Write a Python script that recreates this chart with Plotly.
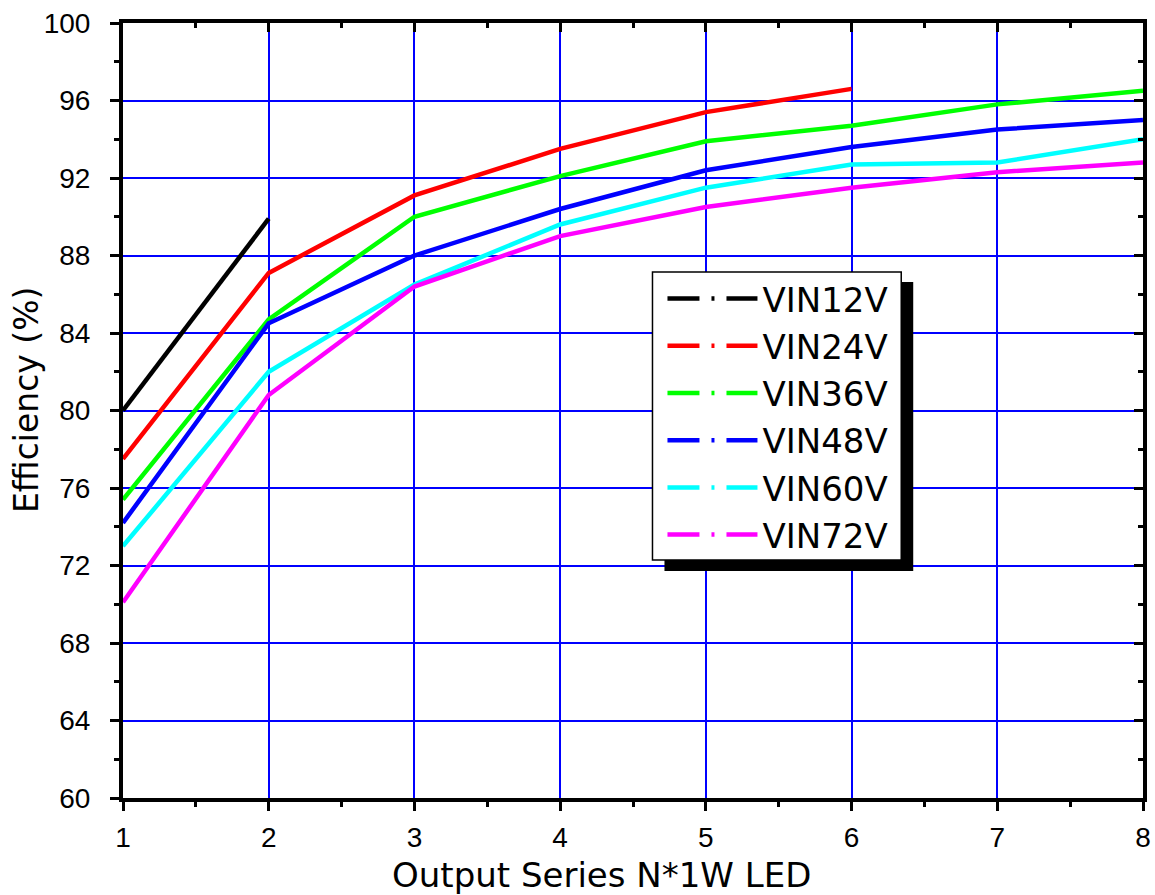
import plotly.graph_objects as go

x_vals = [1, 2, 3, 4, 5, 6, 7, 8]
series_names = ["VIN12V", "VIN24V", "VIN36V", "VIN48V", "VIN60V", "VIN72V"]
vin12 = [80.0, 89.9]
vin24 = [77.5, 87.1, 91.1, 93.5, 95.4, 96.6]
vin36 = [75.4, 84.7, 90.0, 92.1, 93.9, 94.7, 95.8, 96.5]
vin48 = [74.2, 84.5, 88.0, 90.4, 92.4, 93.6, 94.5, 95.0]
vin60 = [73.0, 82.0, 86.5, 89.6, 91.5, 92.7, 92.8, 94.0]
vin72 = [70.1, 80.8, 86.4, 89.0, 90.5, 91.5, 92.3, 92.8]
y_ticks = [60, 64, 68, 72, 76, 80, 84, 88, 92, 96, 100]
x_ticks = [1, 2, 3, 4, 5, 6, 7, 8]

series = [vin12, vin24, vin36, vin48, vin60, vin72]
colors = ["#000000", "#FF0000", "#00FF00", "#0000FF", "#00FFFF", "#FF00FF"]

FONT = "Liberation Sans, Arial, sans-serif"
FONT2 = "DejaVu Sans, Liberation Sans, sans-serif"

fig = go.Figure()
for name, ys, c in zip(series_names, series, colors):
    fig.add_trace(go.Scatter(x=x_vals[:len(ys)], y=ys, mode="lines", name=name,
                             line=dict(color=c, width=4.5), showlegend=False))
# legend-only entries with the dash-dot sample
for name, c in zip(series_names, colors):
    fig.add_trace(go.Scatter(x=[None], y=[None], mode="lines", name=name,
                             line=dict(color=c, width=4.5, dash="32px,12px,3px,12px")))
# dummy trace to activate mirrored inner-tick axes
fig.add_trace(go.Scatter(x=[None], y=[None], xaxis="x2", yaxis="y2", showlegend=False))

W, H = 1155, 895
L, T = 123, 23
R = 4
B = H - 798
pw = 1144 - L
ph = H - T - B

def px_x(p):
    return (p - L) / pw

def px_y(p):
    return (H - B - p) / ph

fig.update_layout(
    width=W, height=H,
    margin=dict(l=L, r=R, t=T, b=B),
    paper_bgcolor="white", plot_bgcolor="white",
    xaxis=dict(range=[1, 8], tickvals=x_ticks, ticks="outside", ticklen=9, tickwidth=3,
               tickcolor="black", showline=True, linewidth=4, linecolor="black", mirror=True,
               showgrid=True, gridcolor="#0000FF", gridwidth=1.5, zeroline=False,
               minor=dict(dtick=0.5, ticks="outside", ticklen=5, tickwidth=3, tickcolor="black", showgrid=False),
               tickfont=dict(family=FONT, size=28, color="black"), ticklabelstandoff=2),
    yaxis=dict(range=[60, 100], tickvals=y_ticks, ticks="outside", ticklen=9, tickwidth=3,
               tickcolor="black", showline=True, linewidth=4, linecolor="black", mirror=True,
               showgrid=True, gridcolor="#0000FF", gridwidth=1.5, zeroline=False,
               minor=dict(dtick=2, ticks="outside", ticklen=5, tickwidth=3, tickcolor="black", showgrid=False),
               tickfont=dict(family=FONT, size=28, color="black"), ticklabelstandoff=14),
    xaxis2=dict(range=[1, 8], overlaying="x", side="top", tickvals=x_ticks, ticks="inside",
                ticklen=9, tickwidth=3, tickcolor="black", showticklabels=False, showgrid=False,
                showline=False, zeroline=False,
                minor=dict(dtick=0.5, ticks="inside", ticklen=5, tickwidth=3, tickcolor="black", showgrid=False)),
    yaxis2=dict(range=[60, 100], overlaying="y", side="right", tickvals=y_ticks, ticks="inside",
                ticklen=9, tickwidth=3, tickcolor="black", showticklabels=False, showgrid=False,
                showline=False, zeroline=False,
                minor=dict(dtick=2, ticks="inside", ticklen=5, tickwidth=3, tickcolor="black", showgrid=False)),
    legend=dict(x=px_x(663), y=px_y(270), xanchor="left", yanchor="top",
                bgcolor="rgba(0,0,0,0)", borderwidth=0, itemwidth=90,
                font=dict(family=FONT2, size=34, color="black"), tracegroupgap=0),
    shapes=[
        dict(type="rect", xref="paper", yref="paper", layer="above",
             x0=px_x(665), x1=px_x(914), y0=px_y(571), y1=px_y(282),
             fillcolor="black", line=dict(width=0)),
        dict(type="rect", xref="paper", yref="paper", layer="above",
             x0=px_x(653), x1=px_x(902), y0=px_y(560), y1=px_y(272),
             fillcolor="white", line=dict(color="black", width=1.5)),
    ],
    annotations=[
        dict(text="Output Series N*1W LED", xref="paper", yref="paper",
             x=px_x(601.5), y=px_y(875), xanchor="center", yanchor="middle", showarrow=False,
             font=dict(family=FONT2, size=34, color="black")),
        dict(text="Efficiency (%)", xref="paper", yref="paper",
             x=px_x(26), y=px_y(400), xanchor="center", yanchor="middle", showarrow=False,
             textangle=-90, font=dict(family=FONT2, size=33, color="black")),
    ],
)

fig.write_html("out.html", config={"displayModeBar": False},
               post_script="document.body.style.margin='0';document.body.style.overflow='hidden';")
